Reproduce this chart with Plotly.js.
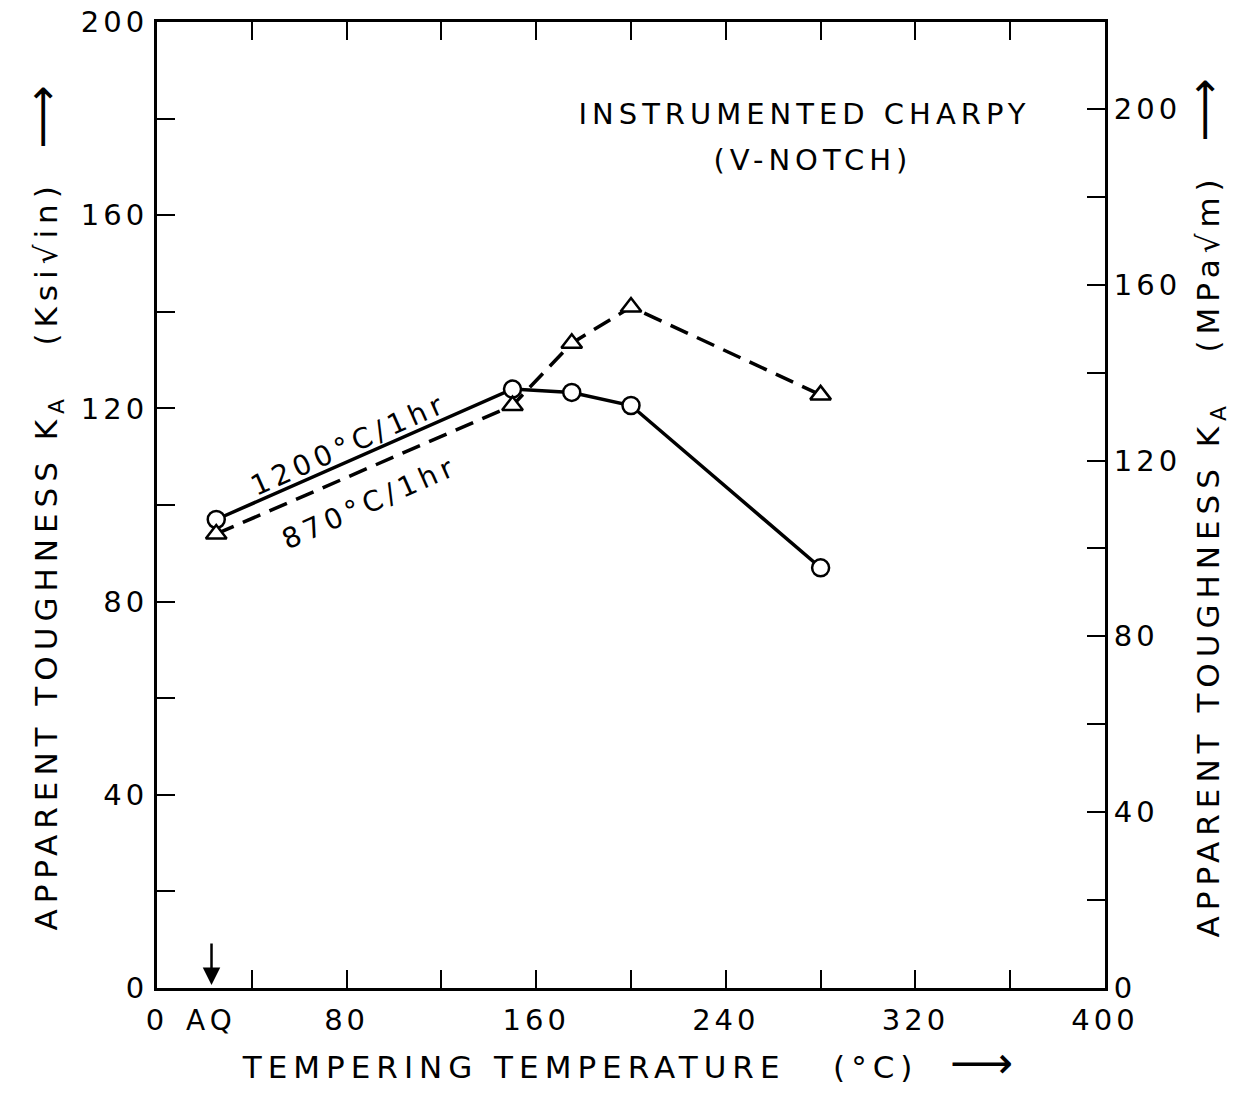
<!DOCTYPE html>
<html><head><meta charset="utf-8">
<script src="https://cdn.plot.ly/plotly-3.0.1.min.js"></script>
<style>body{margin:0;background:#fff}#c{width:1238px;height:1093px}</style>
</head><body><div id="c"></div>
<script>
const temps1200 = [25, 150, 175, 200, 280];
const k1200 = [97, 124, 123.3, 120.6, 87];
const temps870 = [25, 150, 175, 200, 280];
const k870 = [94, 120.6, 133.5, 141, 122.8];
const xTickVals = [0,40,80,120,160,200,240,280,320,360,400];
const xTickText = ["0","","80","","160","","240","","320","","400"];
const yTickVals = [0,20,40,60,80,100,120,140,160,180,200];
const yTickText = ["0","","40","","80","","120","","160","","200"];
const y2TickVals = [0,20,40,60,80,100,120,140,160,180,200];
const y2TickText = ["0","","40","","80","","120","","160","","200"];
const KSI_TO_MPA = 1.0988;

const F = "DejaVu Sans, sans-serif";
const ARROW = "<span style='font-size:44px'>⟶</span>";
const traces = [
  {x: temps1200, y: k1200, mode: "lines+markers", name: "1200°C/1hr",
   line: {color: "#000", width: 3.5},
   marker: {symbol: "circle", size: 17, color: "#fff", line: {color: "#000", width: 2.5}}},
  {x: temps870, y: k870, mode: "lines+markers", name: "870°C/1hr",
   line: {color: "#000", width: 3.5, dash: "19px,10px"},
   marker: {symbol: "triangle-up", size: 18, color: "#fff", line: {color: "#000", width: 2.5}}},
  {x: [0], y: [0], yaxis: "y2", mode: "markers", marker: {opacity: 0}, hoverinfo: "skip", showlegend: false}
];
const layout = {
  width: 1238, height: 1093,
  margin: {l: 157, r: 133, t: 22, b: 105},
  paper_bgcolor: "#fff", plot_bgcolor: "#fff",
  showlegend: false,
  font: {family: F, color: "#000", size: 28},
  xaxis: {range: [0, 400], tickvals: xTickVals, ticktext: xTickText,
    ticks: "inside", ticklen: 18, tickwidth: 2, tickcolor: "#000",
    showline: true, linewidth: 3, linecolor: "#000", mirror: "ticks",
    showgrid: false, zeroline: false, ticklabelstandoff: 4,
    tickfont: {family: F, size: 29},
    title: {text: "TEMPERING TEMPERATURE   (°C)  " + ARROW, font: {family: F, size: 31}, standoff: 14}},
  yaxis: {range: [0, 200], tickvals: yTickVals, ticktext: yTickText,
    ticks: "inside", ticklen: 18, tickwidth: 2, tickcolor: "#000",
    showline: true, linewidth: 3, linecolor: "#000",
    showgrid: false, zeroline: false,
    tickfont: {family: F, size: 29},
    title: {text: "APPARENT TOUGHNESS K<sub>A</sub>   (Ksi√in)  " + ARROW, font: {family: F, size: 31}, standoff: 26}},
  yaxis2: {overlaying: "y", side: "right", range: [0, 200 * KSI_TO_MPA],
    tickvals: y2TickVals, ticktext: y2TickText,
    ticks: "inside", ticklen: 18, tickwidth: 2, tickcolor: "#000",
    showline: true, linewidth: 3, linecolor: "#000",
    showgrid: false, zeroline: false,
    tickfont: {family: F, size: 29},
    title: {text: "APPARENT TOUGHNESS K<sub>A</sub>   (MPa√m)  " + ARROW, font: {family: F, size: 31}, standoff: 30}},
  annotations: [
    {x: 273, y: 181, xref: "x", yref: "y", showarrow: false,
     text: "INSTRUMENTED CHARPY", font: {family: F, size: 29}},
    {x: 277, y: 171.5, xref: "x", yref: "y", showarrow: false,
     text: "(V-NOTCH)", font: {family: F, size: 29}},
    {x: 81, y: 112.6, xref: "x", yref: "y", showarrow: false, text: "1200°C/1hr",
     textangle: -24, font: {family: F, size: 28}},
    {x: 90, y: 100.5, xref: "x", yref: "y", showarrow: false, text: "870°C/1hr",
     textangle: -24, font: {family: F, size: 28}},
    {x: 23, y: 0, xref: "x", yref: "y", showarrow: true, ax: 0, ay: -46,
     arrowhead: 2, arrowsize: 1.4, arrowwidth: 2.5, arrowcolor: "#000", text: "", standoff: 3},
    {x: 23, y: 0, xref: "x", yref: "y", yshift: -32, showarrow: false, text: "AQ",
     font: {family: F, size: 28}}
  ]
};
Plotly.newPlot("c", traces, layout, {displayModeBar: false, staticPlot: true}).then(function(gd){
  const sp = (sel, v) => gd.querySelectorAll(sel).forEach(el => { el.style.letterSpacing = v; });
  sp(".xtitle, .ytitle, .y2title", "6px");
  sp(".xtick text, .ytick text, .y2tick text", "4px");
  sp(".annotation-text", "5px");
});
</script></body></html>
